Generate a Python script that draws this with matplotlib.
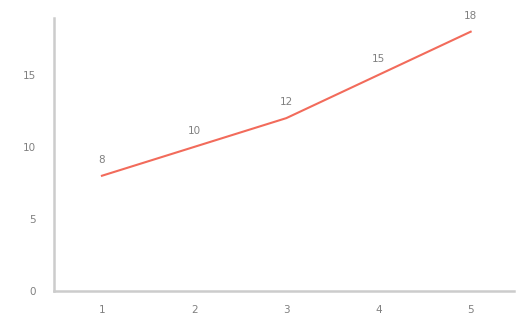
import matplotlib
matplotlib.use("Agg")
import matplotlib.pyplot as plt

x_values = [1, 2, 3, 4, 5]
y_values = [8, 10, 12, 15, 18]
x_ticks = [1, 2, 3, 4, 5]
y_ticks = [0, 5, 10, 15]

fig = plt.figure(figsize=(5.16, 3.2), dpi=100)
ax = fig.add_axes([54/516, 29/320, (514-54)/516, (291-18)/320])
ax.plot(x_values, y_values, color="#f26b5b", linewidth=1.5)
for xv, yv in zip(x_values, y_values):
    ax.annotate(str(yv), (xv, yv), xytext=(0, 8), textcoords="offset points",
                ha="center", va="bottom", fontsize=7.5, color="#808080")

ax.set_xlim(0.48, 5.47)
ax.set_ylim(0, 18.95)
ax.set_xticks(x_ticks)
ax.set_yticks(y_ticks)
ax.tick_params(length=0, labelsize=7.5, labelcolor="#808080")
ax.tick_params(axis="y", pad=13)
ax.tick_params(axis="x", pad=10)
for s in ["top", "right"]:
    ax.spines[s].set_visible(False)
for s in ["left", "bottom"]:
    ax.spines[s].set_color("#cccccc")
    ax.spines[s].set_linewidth(1.8)

fig.savefig("out.png", dpi=100)
